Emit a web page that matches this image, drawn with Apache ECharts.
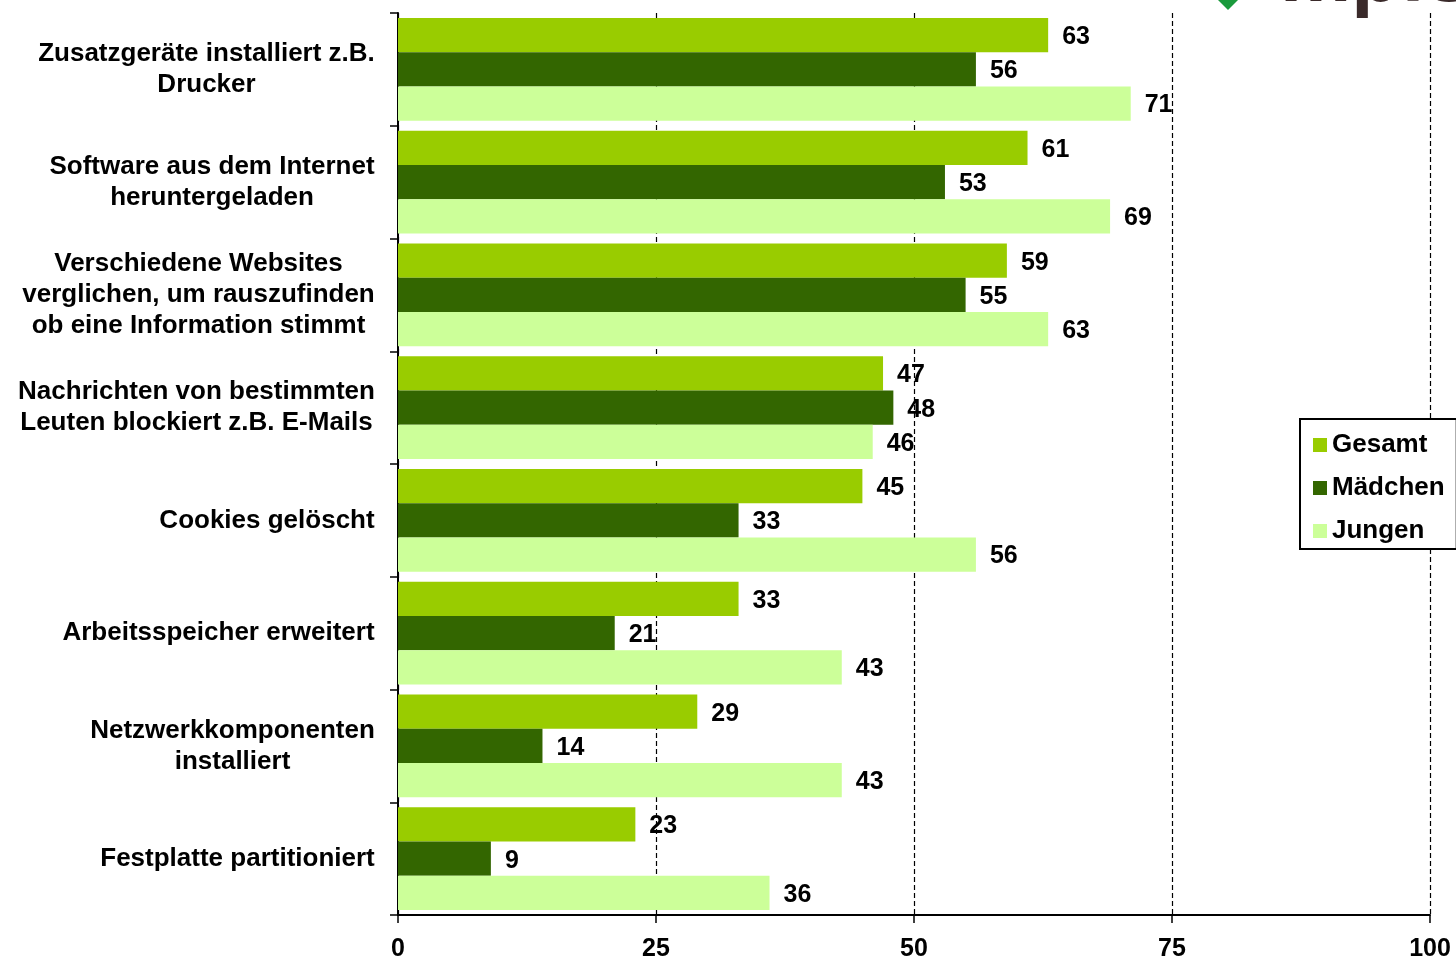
<!DOCTYPE html>
<html>
<head>
<meta charset="utf-8">
<script src="https://cdn.jsdelivr.net/npm/echarts@6/dist/echarts.min.js"></script>
<style>
html,body{margin:0;padding:0;background:#fff;}
#chart{width:1456px;height:960px;}
</style>
</head>
<body>
<div id="chart"></div>
<script>
var categories = [
  "Zusatzgeräte installiert z.B.\nDrucker",
  "Software aus dem Internet\nheruntergeladen",
  "Verschiedene Websites\nverglichen, um rauszufinden\nob eine Information stimmt",
  "Nachrichten von bestimmten\nLeuten blockiert z.B. E-Mails",
  "Cookies gelöscht",
  "Arbeitsspeicher erweitert",
  "Netzwerkkomponenten\ninstalliert",
  "Festplatte partitioniert"
];
var seriesNames = ["Gesamt", "Mädchen", "Jungen"];
var gesamt  = [63, 61, 59, 47, 45, 33, 29, 23];
var maedchen = [56, 53, 55, 48, 33, 21, 14, 9];
var jungen  = [71, 69, 63, 46, 56, 43, 43, 36];
var xTicks = [0, 25, 50, 75, 100];

var colors = ["#99CC00", "#336600", "#CCFF99"];
var FONT = "Liberation Sans, Arial, sans-serif";
var catFontSize = 26;

// measure widest line of each category label for centered multi-line blocks
var ctx = document.createElement("canvas").getContext("2d");
ctx.font = "bold " + catFontSize + "px " + FONT;
var rich = {};
categories.forEach(function (c, i) {
  var w = 0;
  c.split("\n").forEach(function (l) { w = Math.max(w, ctx.measureText(l).width); });
  rich["c" + i] = {
    width: Math.ceil(w) + 2,
    align: "center",
    fontSize: catFontSize,
    fontWeight: "bold",
    fontFamily: FONT,
    color: "#000",
    lineHeight: 31
  };
});

var chart = echarts.init(document.getElementById("chart"));
var dataSets = [gesamt, maedchen, jungen];
var series = dataSets.map(function (d, i) {
  return {
    name: seriesNames[i],
    type: "bar",
    data: d,
    barGap: "0%",
    barCategoryGap: "9%",
    itemStyle: { color: colors[i] },
    label: {
      show: true,
      position: "right",
      distance: 14,
      offset: [0, 2],
      color: "#000",
      fontWeight: "bold",
      fontSize: 25,
      fontFamily: FONT
    },
    animation: false
  };
});

chart.setOption({
  backgroundColor: "#fff",
  animation: false,
  grid: { left: 398, right: 26, top: 13, bottom: 45, containLabel: false, outerBoundsMode: "none" },
  legend: {
    data: seriesNames,
    orient: "vertical",
    left: 1300,
    top: 419,
    icon: "rect",
    itemWidth: 14,
    itemHeight: 14,
    itemGap: 17,
    padding: [13, 12, 5, 13],
    borderColor: "#000",
    borderWidth: 2,
    backgroundColor: "#fff",
    textStyle: { fontSize: 26, fontWeight: "bold", fontFamily: FONT, color: "#000", lineHeight: 26 }
  },
  xAxis: {
    type: "value",
    min: xTicks[0],
    max: xTicks[xTicks.length - 1],
    interval: 25,
    axisLine: { show: true, lineStyle: { color: "#000", width: 2 } },
    axisTick: { show: true, length: 8, lineStyle: { color: "#000", width: 1.5 } },
    axisLabel: { margin: 22, fontSize: 25, fontWeight: "bold", fontFamily: FONT, color: "#000" },
    splitLine: { show: true, lineStyle: { color: "#000", type: [5, 3], width: 1.2 } }
  },
  yAxis: {
    type: "category",
    data: categories,
    inverse: true,
    axisLine: { show: true, lineStyle: { color: "#000", width: 2 } },
    axisTick: { show: true, length: 8, lineStyle: { color: "#000", width: 1.5 } },
    axisLabel: {
      margin: 22,
      formatter: function (v, idx) {
        return v.split("\n").map(function (l) { return "{c" + idx + "|" + l + "}"; }).join("\n");
      },
      rich: rich
    }
  },
  graphic: [
    {
      type: "polygon",
      shape: { points: [[1218, 0], [1238, 0], [1228, 10]] },
      style: { fill: "#1a9a3c" }
    },
    {
      type: "text",
      left: 1280,
      top: -61,
      style: { text: "mpfs", fontSize: 80, fontWeight: 900, fontFamily: FONT, fill: "#3a2a2a" }
    }
  ],
  series: series
});
</script>
</body>
</html>
